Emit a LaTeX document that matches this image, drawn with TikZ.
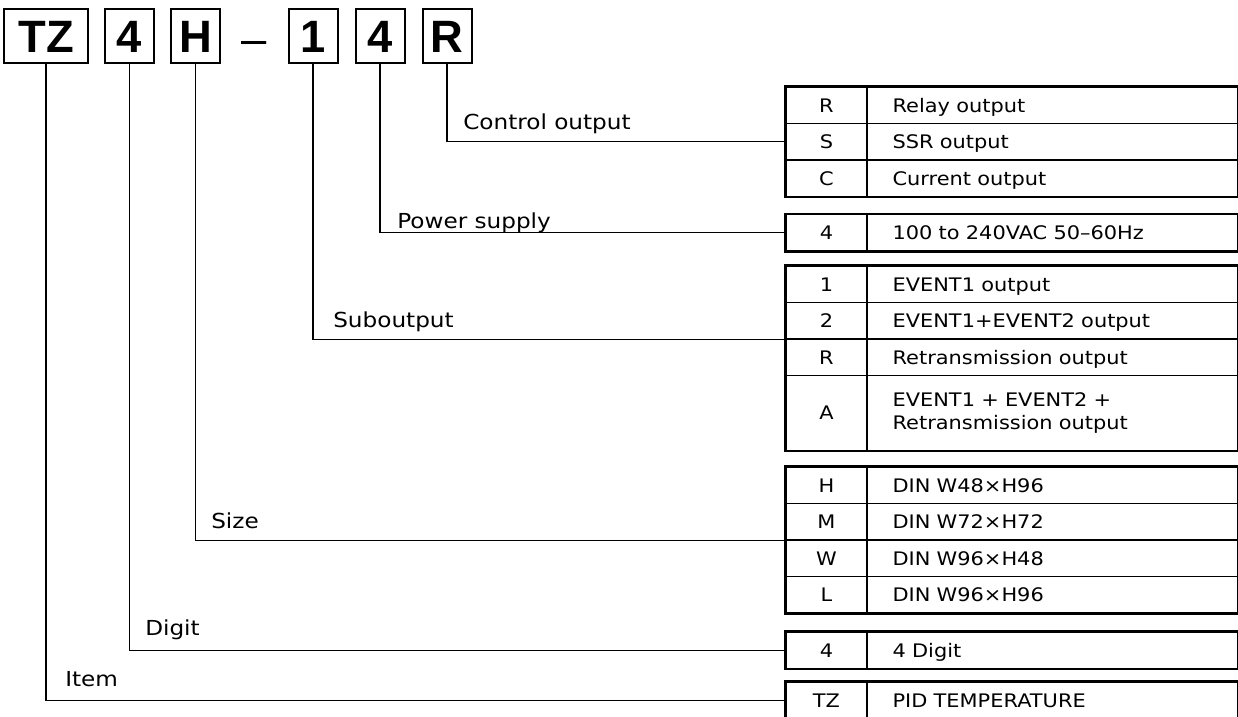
\documentclass[tikz,border=0pt]{standalone}
\usepackage{fontspec}
\setmainfont{DejaVu Sans}
\newfontfamily\tabfont{DejaVu Sans}[FakeStretch=1.12]
\newfontfamily\codefont{Liberation Sans}

\begin{document}
\begin{tikzpicture}[x=0.75pt, y=-0.75pt,
  codebox/.style={draw, line width=1.5pt, inner sep=0pt, minimum width=36.75pt,
    minimum height=40pt, text height=24.5pt, text depth=0pt,
    font=\codefont\bfseries\fontsize{34}{34}\selectfont},
  dashsign/.style={inner sep=0pt, anchor=base, font=\codefont\fontsize{34}{34}\selectfont},
  cell/.style={draw, line width=0.9pt, inner sep=0pt, minimum height=27.4pt,
    font=\tabfont\fontsize{14}{17}\selectfont},
  keycell/.style={cell, minimum width=60.75pt, text height=10.2pt, text depth=0pt},
  desccell/.style={cell, anchor=west, text width=240pt, inner xsep=18.75pt, align=left},
  oneline/.style={text height=10.2pt, text depth=0pt},
  frame/.style={line width=1.6pt},
  link/.style={line width=1.1pt},
  lbl/.style={anchor=base west, inner sep=0pt, font=\tabfont\fontsize{15.5}{18}\selectfont}]

\useasboundingbox (0,0) rectangle (1238,717);

\node[codebox, minimum width=63pt] (tz) at (46,36) {TZ};
\node[codebox] (dg) at (129.5,36) {4};
\node[codebox] (sz) at (195.5,36) {H};
\node[dashsign] (dash) at (254.5,55) {–};
\node[codebox] (sb) at (313,36) {1};
\node[codebox] (pw) at (380,36) {4};
\node[codebox] (co) at (447,36) {R};

\node[keycell] (k1a) at (826.5,105.25) {R};
\node[desccell, oneline] (d1a) at (867,105.25) {Relay output};
\node[keycell] (k1b) at (826.5,141.75) {S};
\node[desccell, oneline] (d1b) at (867,141.75) {SSR output};
\node[keycell] (k1c) at (826.5,178.25) {C};
\node[desccell, oneline] (d1c) at (867,178.25) {Current output};
\draw[frame] (d1a.north east) -- (k1a.north west) -- (k1c.south west) -- (d1c.south east);

\node[keycell] (k2a) at (826.5,232.75) {4};
\node[desccell, oneline] (d2a) at (867,232.75) {100 to 240VAC 50–60Hz};
\draw[frame] (d2a.north east) -- (k2a.north west) -- (k2a.south west) -- (d2a.south east);

\node[keycell] (k3a) at (826.5,284.25) {1};
\node[desccell, oneline] (d3a) at (867,284.25) {EVENT1 output};
\node[keycell] (k3b) at (826.5,320.75) {2};
\node[desccell, oneline] (d3b) at (867,320.75) {EVENT1+EVENT2 output};
\node[keycell] (k3c) at (826.5,357.25) {R};
\node[desccell, oneline] (d3c) at (867,357.25) {Retransmission output};
\node[keycell, minimum height=56.25pt] (k3d) at (826.5,413) {A};
\node[desccell, minimum height=56.25pt] (d3d) at (867,413) {EVENT1 + EVENT2 +\\Retransmission output};
\draw[frame] (d3a.north east) -- (k3a.north west) -- (k3d.south west) -- (d3d.south east);

\node[keycell] (k4a) at (826.5,485.25) {H};
\node[desccell, oneline] (d4a) at (867,485.25) {DIN W48×H96};
\node[keycell] (k4b) at (826.5,521.75) {M};
\node[desccell, oneline] (d4b) at (867,521.75) {DIN W72×H72};
\node[keycell] (k4c) at (826.5,558.25) {W};
\node[desccell, oneline] (d4c) at (867,558.25) {DIN W96×H48};
\node[keycell] (k4d) at (826.5,594.75) {L};
\node[desccell, oneline] (d4d) at (867,594.75) {DIN W96×H96};
\draw[frame] (d4a.north east) -- (k4a.north west) -- (k4d.south west) -- (d4d.south east);

\node[keycell] (k5a) at (826.5,650.25) {4};
\node[desccell, oneline] (d5a) at (867,650.25) {4 Digit};
\draw[frame] (d5a.north east) -- (k5a.north west) -- (k5a.south west) -- (d5a.south east);

\node[keycell] (k6a) at (826.5,700.25) {TZ};
\node[desccell, oneline] (d6a) at (867,700.25) {PID TEMPERATURE};
\draw[frame] (d6a.north east) -- (k6a.north west) -- (k6a.south west) -- (d6a.south east);

\draw[link] (co.south) |- (k1b.west);
\draw[link] (pw.south) |- (k2a.west);
\draw[link] (sb.south) |- (k3b.south west);
\draw[link] (sz.south) |- (k4b.south west);
\draw[link] (dg.south) |- (k5a.west);
\draw[link] (tz.south) |- (k6a.west);

\node[lbl] (lco) at (463,129) {Control output};
\node[lbl] (lpw) at (397,228) {Power supply};
\node[lbl] (lsb) at (333,327) {Suboutput};
\node[lbl] (lsz) at (211,528) {Size};
\node[lbl] (ldg) at (145,635) {Digit};
\node[lbl] (ltz) at (65,686) {Item};
\end{tikzpicture}
\end{document}
